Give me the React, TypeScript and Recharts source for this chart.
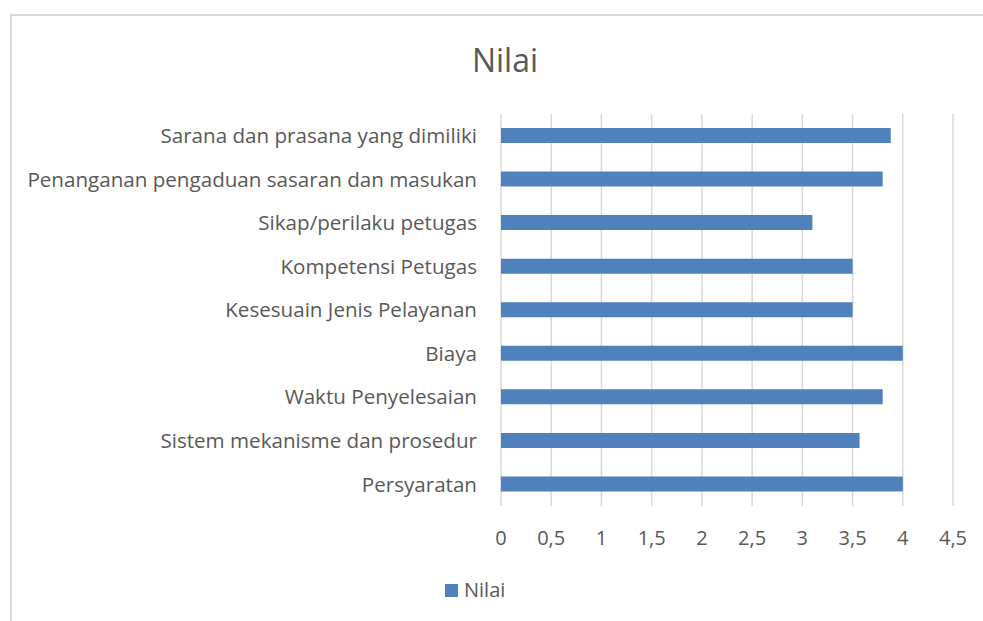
import { BarChart, Bar, XAxis, YAxis, CartesianGrid } from 'recharts';

const categories = [
  'Sarana dan prasana yang dimiliki',
  'Penanganan pengaduan sasaran dan masukan',
  'Sikap/perilaku petugas',
  'Kompetensi Petugas',
  'Kesesuain Jenis Pelayanan',
  'Biaya',
  'Waktu Penyelesaian',
  'Sistem mekanisme dan prosedur',
  'Persyaratan',
];

const nilai = [3.88, 3.8, 3.1, 3.5, 3.5, 4.0, 3.8, 3.57, 4.0];

const xTicks = [0, 0.5, 1, 1.5, 2, 2.5, 3, 3.5, 4, 4.5];

const data = categories.map((name, i) => ({ name, nilai: nilai[i] }));

const FONT = '"Open Sans", sans-serif';
const TEXT = '#595959';

export default function App() {
  return (
    <div style={{ position: 'fixed', left: 0, top: 0, width: 983, height: 621, overflow: 'hidden', background: '#fff', fontFamily: FONT }}>
      {/* chart frame */}
      <div
        style={{
          position: 'absolute',
          left: 10,
          top: 14,
          width: 1000,
          height: 700,
          borderLeft: '2px solid #d9d9d9',
          borderTop: '2px solid #d9d9d9',
        }}
      />
      <div
        style={{
          position: 'absolute',
          left: 405,
          width: 200,
          top: 44,
          textAlign: 'center',
          fontSize: 32,
          lineHeight: '32px',
          color: TEXT,
        }}
      >
        Nilai
      </div>

      <div style={{ position: 'absolute', left: 0, top: 0 }}>
        <BarChart
          width={983}
          height={621}
          data={data}
          layout="vertical"
          margin={{ top: 114, right: 30, bottom: 75, left: 11 }}
        >
          <CartesianGrid horizontal={false} stroke="#d9d9d9" strokeWidth={1.5} />
          <XAxis
            type="number"
            domain={[0, 4.5]}
            ticks={xTicks}
            height={40}
            axisLine={false}
            tickLine={false}
            tickSize={0}
            tickMargin={25}
            tickFormatter={(v: number) => String(v).replace('.', ',')}
            tick={{ fill: TEXT, fontSize: 20, fontFamily: FONT }}
          />
          <YAxis
            type="category"
            dataKey="name"
            width={490}
            axisLine={false}
            tickLine={false}
            tickSize={0}
            tickMargin={24}
            interval={0}
            tick={{ fill: TEXT, fontSize: 20.6, fontFamily: FONT }}
          />
          <Bar dataKey="nilai" fill="#4f81bd" barSize={15} isAnimationActive={false} />
        </BarChart>
      </div>

      {/* legend */}
      <div
        style={{
          position: 'absolute',
          left: 445,
          top: 580,
          display: 'flex',
          alignItems: 'center',
          fontSize: 20,
          lineHeight: '20px',
          color: TEXT,
        }}
      >
        <span style={{ display: 'inline-block', width: 13, height: 13, background: '#4f81bd', marginRight: 6 }} />
        Nilai
      </div>
    </div>
  );
}
